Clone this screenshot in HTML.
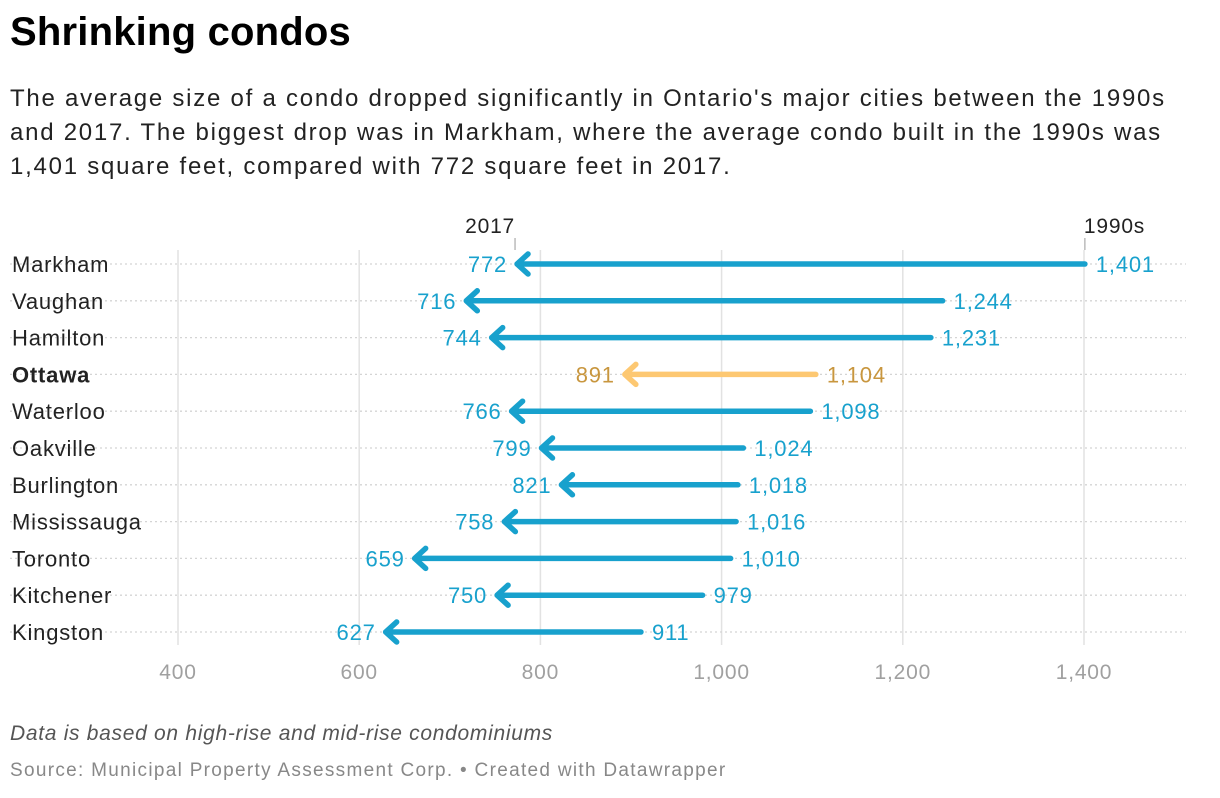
<!DOCTYPE html>
<html><head><meta charset="utf-8"><style>
body{margin:0;background:#fff;font-family:"Liberation Sans",Roboto,sans-serif;width:1220px;height:798px;overflow:hidden;position:relative}
h1{position:absolute;left:10px;top:10px;margin:0;font-size:40px;font-weight:bold;color:#000;letter-spacing:0.2px}
.desc{position:absolute;left:10px;top:82px;width:1200px;font-size:24px;line-height:34px;color:#222;letter-spacing:1.75px;white-space:nowrap}
.note{position:absolute;left:10px;top:722px;font-size:21px;font-style:italic;color:#555;letter-spacing:0.7px}
.src{position:absolute;left:10px;top:760px;font-size:19px;color:#888;letter-spacing:1.3px}
svg{position:absolute;left:0;top:0}
svg text{letter-spacing:0.8px}
</style></head><body>
<h1>Shrinking condos</h1>
<div class="desc">The average size of a condo dropped significantly in Ontario's major cities between the 1990s<br>and 2017. The biggest drop was in Markham, where the average condo built in the 1990s was<br>1,401 square feet, compared with 772 square feet in 2017.</div>
<svg id="chart" width="1220" height="798"></svg>
<div class="note">Data is based on high-rise and mid-rise condominiums</div>
<div class="src">Source: Municipal Property Assessment Corp. • Created with Datawrapper</div>
<script>
const cities=["Markham","Vaughan","Hamilton","Ottawa","Waterloo","Oakville","Burlington","Mississauga","Toronto","Kitchener","Kingston"];
const v1990s=[1401,1244,1231,1104,1098,1024,1018,1016,1010,979,911];
const v2017=[772,716,744,891,766,799,821,758,659,750,627];
const ticks=[400,600,800,1000,1200,1400];
const highlight="Ottawa";
const NS="http://www.w3.org/2000/svg";
const svg=document.getElementById("chart");
const x=v=>178+(v-400)*0.906;
const y=i=>264+i*36.8;
const fmt=v=>v.toLocaleString("en-US");
function mk(t,a,p){const e=document.createElementNS(NS,t);for(const k in a)e.setAttribute(k,a[k]);(p||svg).appendChild(e);return e;}
ticks.forEach(t=>{
  const l=mk("line",{x1:x(t),x2:x(t),y1:250,y2:645,stroke:"#e2e2e2","stroke-width":1.5});
  
  
  const tx=mk("text",{x:x(t),y:679,"text-anchor":"middle","font-size":21,fill:"#a0a0a0"});
  tx.textContent=fmt(t);
  
  
});
cities.forEach((c,i)=>{
  const yy=y(i);
  const g=mk("line",{x1:10,x2:1186,y1:yy,y2:yy,stroke:"#d4d4d4","stroke-width":1.3,"stroke-dasharray":"2,3"});
  
  
  const lab=mk("text",{x:12,y:yy+8,"font-size":22,fill:"#222","font-weight":c===highlight?"bold":"normal"});
  lab.textContent=c;
  
  
  const hl=c===highlight;
  const col=hl?"#fdc872":"#18a1cd", tcol=hl?"#c8963e":"#18a1cd";
  const x1=x(v1990s[i]), x2=x(v2017[i]);
  const ln=mk("path",{d:`M${x1},${yy} L${x2+2},${yy} M${x2+13},${yy-10} L${x2+2},${yy} L${x2+13},${yy+10}`,stroke:col,"stroke-width":5.5,fill:"none","stroke-linecap":"round","stroke-linejoin":"round"});
  
  
  const a=mk("text",{x:x1+11,y:yy+8,"font-size":22,fill:tcol});
  a.textContent=fmt(v1990s[i]);
  
  
  const b=mk("text",{x:x2-8,y:yy+8,"font-size":22,fill:tcol,"text-anchor":"end"});
  b.textContent=fmt(v2017[i]);
  
  
});
[[v2017[0],"2017","end"],[v1990s[0],"1990s","start"]].forEach(([v,t,anc])=>{
  const xx=x(v);
  const l=mk("line",{x1:xx,x2:xx,y1:238,y2:250,stroke:"#999","stroke-width":1});
  
  
  const tx=mk("text",{x:anc==="start"?xx-1:xx,y:233,"font-size":21,fill:"#222","text-anchor":anc});
  tx.textContent=t;
  
  
});
</script>
</body></html>
